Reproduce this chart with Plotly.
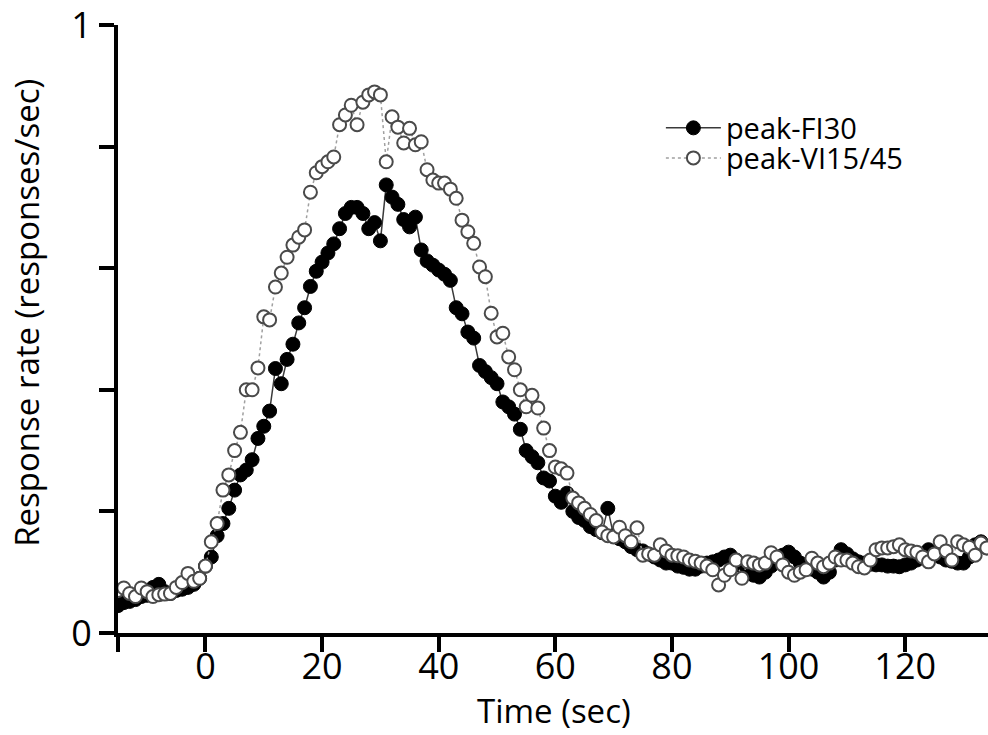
import plotly.graph_objects as go

# Time (sec), one point per second
time_sec = list(range(-15, 135))

fi30 = [0.045, 0.05, 0.052, 0.055, 0.06, 0.062, 0.075, 0.08, 0.068, 0.065,
        0.07, 0.072, 0.075, 0.08, 0.09, 0.11, 0.125, 0.16, 0.18, 0.205,
        0.235, 0.26, 0.268, 0.285, 0.32, 0.34, 0.365, 0.435, 0.41, 0.45,
        0.475, 0.51, 0.535, 0.57, 0.595, 0.61, 0.625, 0.64, 0.665, 0.69,
        0.70, 0.70, 0.69, 0.665, 0.675, 0.645, 0.737, 0.717, 0.705, 0.68,
        0.668, 0.684, 0.63, 0.612, 0.605, 0.597, 0.59, 0.58, 0.535, 0.525,
        0.495, 0.485, 0.44, 0.43, 0.42, 0.41, 0.38, 0.372, 0.36, 0.335,
        0.30, 0.29, 0.28, 0.255, 0.25, 0.225, 0.215, 0.23, 0.2, 0.19,
        0.185, 0.175, 0.17, 0.165, 0.205, 0.16, 0.155, 0.15, 0.142, 0.137,
        0.135, 0.13, 0.125, 0.12, 0.115, 0.115, 0.11, 0.108, 0.105, 0.105,
        0.11, 0.115, 0.117, 0.12, 0.125, 0.128, 0.12, 0.11, 0.1, 0.095,
        0.092, 0.1, 0.11, 0.12, 0.128, 0.133, 0.125, 0.115, 0.11, 0.105,
        0.1, 0.092, 0.1, 0.12, 0.137, 0.13, 0.122, 0.117, 0.115, 0.113,
        0.112, 0.112, 0.11, 0.11, 0.109, 0.112, 0.115, 0.12, 0.128, 0.137,
        0.13, 0.125, 0.12, 0.118, 0.115, 0.115, 0.125, 0.145, 0.15, 0.14]

vi15_45 = [0.07, 0.074, 0.065, 0.06, 0.074, 0.068, 0.06, 0.063, 0.064, 0.065,
           0.075, 0.083, 0.098, 0.085, 0.09, 0.11, 0.15, 0.18, 0.235, 0.26,
           0.30, 0.33, 0.40, 0.40, 0.436, 0.52, 0.515, 0.569, 0.592, 0.618,
           0.638, 0.651, 0.663, 0.725, 0.757, 0.767, 0.775, 0.783, 0.836, 0.852,
           0.868, 0.836, 0.873, 0.885, 0.89, 0.885, 0.775, 0.849, 0.832, 0.806,
           0.83, 0.803, 0.808, 0.762, 0.745, 0.74, 0.74, 0.73, 0.715, 0.679,
           0.66, 0.641, 0.602, 0.586, 0.526, 0.487, 0.493, 0.454, 0.433, 0.40,
           0.372, 0.391, 0.37, 0.337, 0.30, 0.273, 0.27, 0.263, 0.222, 0.214,
           0.205, 0.195, 0.185, 0.166, 0.16, 0.158, 0.174, 0.16, 0.15, 0.173,
           0.128, 0.13, 0.128, 0.145, 0.135, 0.128, 0.127, 0.125, 0.12, 0.118,
           0.115, 0.11, 0.104, 0.079, 0.095, 0.104, 0.12, 0.09, 0.117, 0.115,
           0.112, 0.115, 0.132, 0.125, 0.112, 0.1, 0.095, 0.1, 0.104, 0.123,
           0.115, 0.109, 0.115, 0.125, 0.12, 0.12, 0.115, 0.109, 0.107, 0.12,
           0.137, 0.14, 0.14, 0.142, 0.145, 0.137, 0.135, 0.133, 0.125, 0.117,
           0.13, 0.15, 0.135, 0.12, 0.15, 0.145, 0.141, 0.128, 0.148, 0.14]

x_tickvals = [-15, 0, 20, 40, 60, 80, 100, 120]
x_ticktext = ["", "0", "20", "40", "60", "80", "100", "120"]
y_tickvals = [0, 0.2, 0.4, 0.6, 0.8, 1.0]
y_ticktext = ["0", "", "", "", "", "1"]

FONT = "Open Sans"

fig = go.Figure()
fig.add_trace(go.Scatter(
    x=time_sec, y=fi30, name="peak-FI30", mode="lines+markers",
    line=dict(color="#3a3a3a", width=1.5),
    marker=dict(symbol="circle", size=14, color="black",
                line=dict(color="black", width=1)),
    legend="legend",
))
fig.add_trace(go.Scatter(
    x=time_sec, y=vi15_45, name="peak-VI15/45", mode="lines+markers",
    line=dict(color="#a0a0a0", width=1.5, dash="dot"),
    marker=dict(symbol="circle", size=13, color="white",
                line=dict(color="#4a4a4a", width=2)),
    legend="legend2",
))

legend_common = dict(
    xanchor="left", yanchor="middle",
    font=dict(family=FONT, size=29, color="black"),
    bgcolor="rgba(0,0,0,0)", itemwidth=55,
)

fig.update_layout(
    width=988, height=735,
    margin=dict(l=118, r=0, t=25, b=102),
    paper_bgcolor="white", plot_bgcolor="white",
    font=dict(family=FONT, color="black"),
    showlegend=True,
    legend=dict(x=0.624, y=0.8306, **legend_common),
    legend2=dict(x=0.624, y=0.7812, **legend_common),
    xaxis=dict(
        range=[-15, 134.2], showgrid=False, zeroline=False,
        showline=True, linecolor="black", linewidth=4,
        ticks="outside", ticklen=15, tickwidth=4, tickcolor="black",
        tickvals=x_tickvals, ticktext=x_ticktext,
        tickfont=dict(family=FONT, size=36, color="black"),
        ticklabelstandoff=-16,
    ),
    yaxis=dict(
        range=[0, 1], showgrid=False, zeroline=False,
        showline=True, linecolor="black", linewidth=4,
        ticks="outside", ticklen=15, tickwidth=4, tickcolor="black",
        tickvals=y_tickvals, ticktext=y_ticktext,
        tickfont=dict(family=FONT, size=36, color="black"),
        ticklabeloverflow="allow",
    ),
    annotations=[
        dict(text="Time (sec)", xref="paper", yref="paper",
             x=0.5017, y=-0.1678, xanchor="center", yanchor="bottom",
             showarrow=False, font=dict(family=FONT, size=33, color="black")),
        dict(text="Response rate (responses/sec)", xref="paper", yref="paper",
             x=-0.105, y=0.526, xanchor="center", yanchor="middle",
             textangle=-90, showarrow=False,
             font=dict(family=FONT, size=33, color="black")),
    ],
)

fig.write_html("out.html")
